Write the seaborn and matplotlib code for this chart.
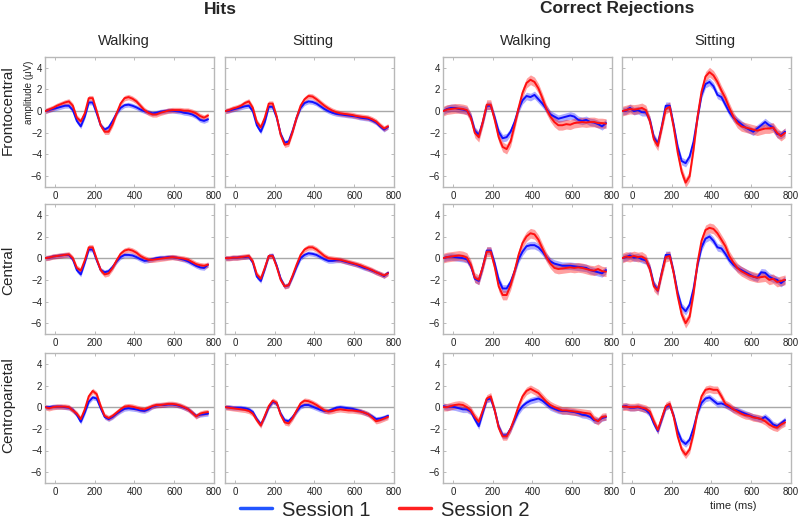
import numpy as np
import pandas as pd
import matplotlib
matplotlib.use("Agg")
import matplotlib.pyplot as plt
import seaborn as sns

# time axis (ms), one sample every 20 ms
time_ms = list(range(-50, 771, 20))

# ---- Hits / Walking ----
hits_walk_fc_s1 = [0.0, 0.1, 0.2, 0.3, 0.4, 0.5, 0.5, 0.1, -0.9, -1.4, -0.5, 0.8, 0.8, -0.2, -1.3, -1.7, -1.5, -0.9, -0.2, 0.3, 0.55,
                   0.6, 0.5, 0.35, 0.15, 0.0, -0.1, -0.2, -0.15, -0.05, 0.0, 0.05, 0.05, 0.0, -0.05, -0.15, -0.2, -0.3, -0.5, -0.8, -0.9, -0.75]
hits_walk_fc_s2 = [0.0, 0.15, 0.3, 0.5, 0.65, 0.8, 0.9, 0.5, -0.6, -0.95, -0.2, 1.2, 1.2, 0.0, -1.3, -1.9, -1.9, -1.2, -0.2, 0.7, 1.2,
                   1.3, 1.15, 0.9, 0.5, 0.1, -0.15, -0.3, -0.3, -0.15, -0.05, 0.05, 0.1, 0.1, 0.1, 0.05, 0.05, -0.05, -0.2, -0.45, -0.6, -0.4]
hits_walk_c_s1 = [0.0, 0.05, 0.15, 0.2, 0.25, 0.3, 0.3, -0.1, -1.1, -1.5, -0.4, 0.8, 0.8, -0.2, -1.1, -1.3, -1.2, -0.8, -0.3, 0.1, 0.3,
                  0.3, 0.25, 0.1, -0.1, -0.25, -0.2, -0.1, 0.0, 0.05, 0.05, 0.1, 0.1, 0.05, -0.05, -0.15, -0.3, -0.5, -0.7, -0.85, -0.9, -0.6]
hits_walk_c_s2 = [0.0, 0.05, 0.15, 0.2, 0.25, 0.3, 0.35, 0.0, -0.9, -1.15, -0.2, 1.0, 1.0, -0.1, -1.1, -1.5, -1.4, -0.9, -0.2, 0.4, 0.7,
                  0.8, 0.7, 0.5, 0.2, 0.0, -0.15, -0.15, -0.1, -0.05, 0.0, 0.05, 0.1, 0.05, 0.0, -0.05, -0.15, -0.35, -0.55, -0.65, -0.7, -0.6]
hits_walk_cp_s1 = [0.0, 0.0, 0.05, 0.05, 0.05, 0.0, -0.05, -0.25, -0.7, -1.35, -0.5, 0.5, 0.9, 0.8, -0.1, -0.9, -1.1, -0.9, -0.6, -0.35, -0.15,
                   -0.1, -0.15, -0.2, -0.3, -0.35, -0.2, 0.05, 0.15, 0.2, 0.2, 0.25, 0.25, 0.2, 0.1, -0.05, -0.2, -0.5, -0.8, -0.7, -0.65, -0.6]
hits_walk_cp_s2 = [0.0, -0.1, 0.0, 0.05, 0.05, 0.05, 0.0, -0.3, -0.6, -1.1, -0.2, 1.0, 1.5, 1.2, 0.1, -0.8, -1.0, -0.8, -0.5, -0.2, 0.05,
                   0.1, 0.05, -0.05, -0.15, -0.2, -0.05, 0.1, 0.2, 0.2, 0.25, 0.3, 0.3, 0.25, 0.15, 0.0, -0.2, -0.5, -0.85, -0.6, -0.5, -0.45]

# ---- Hits / Sitting ----
hits_sit_fc_s1 = [0.0, 0.05, 0.15, 0.25, 0.35, 0.45, 0.5, 0.0, -1.3, -1.9, -1.0, 0.4, 0.4, -0.6, -2.1, -2.9, -2.8, -1.8, -0.6, 0.3, 0.75,
                  0.9, 0.85, 0.7, 0.45, 0.2, 0.0, -0.15, -0.25, -0.3, -0.35, -0.4, -0.45, -0.5, -0.6, -0.65, -0.7, -0.85, -1.05, -1.4, -1.7, -1.45]
hits_sit_fc_s2 = [0.0, 0.1, 0.25, 0.35, 0.5, 0.75, 0.9, 0.3, -1.0, -1.5, -0.6, 0.7, 0.7, -0.5, -2.2, -3.1, -3.0, -1.9, -0.6, 0.5, 1.1,
                  1.4, 1.35, 1.1, 0.8, 0.5, 0.25, 0.05, -0.1, -0.2, -0.25, -0.3, -0.35, -0.45, -0.5, -0.55, -0.6, -0.75, -0.95, -1.3, -1.6, -1.4]
hits_sit_c_s1 = [0.0, 0.0, 0.05, 0.05, 0.1, 0.1, 0.15, -0.4, -1.7, -2.1, -1.0, 0.2, 0.25, -0.7, -1.9, -2.6, -2.5, -1.7, -0.8, 0.0, 0.3,
                 0.45, 0.4, 0.3, 0.1, -0.1, -0.25, -0.25, -0.2, -0.2, -0.3, -0.4, -0.5, -0.6, -0.75, -0.9, -1.0, -1.15, -1.3, -1.45, -1.65, -1.35]
hits_sit_c_s2 = [0.0, 0.0, 0.05, 0.05, 0.1, 0.15, 0.2, -0.3, -1.5, -1.9, -0.9, 0.2, 0.2, -0.8, -2.0, -2.6, -2.5, -1.6, -0.6, 0.3, 0.8,
                 1.0, 1.0, 0.8, 0.5, 0.2, 0.0, -0.05, -0.1, -0.15, -0.25, -0.35, -0.45, -0.55, -0.65, -0.8, -0.95, -1.1, -1.3, -1.45, -1.6, -1.4]
hits_sit_cp_s1 = [0.0, 0.0, -0.05, -0.05, -0.05, -0.1, -0.2, -0.45, -1.1, -1.6, -0.9, 0.0, 0.5, 0.35, -0.6, -1.2, -1.3, -0.9, -0.4, 0.05, 0.2,
                  0.2, 0.05, -0.1, -0.25, -0.35, -0.35, -0.2, -0.05, 0.0, -0.05, -0.1, -0.15, -0.25, -0.35, -0.5, -0.65, -0.85, -1.1, -1.05, -0.95, -0.8]
hits_sit_cp_s2 = [0.0, -0.05, -0.1, -0.15, -0.2, -0.25, -0.35, -0.6, -1.2, -1.7, -0.8, 0.1, 0.6, 0.4, -0.7, -1.4, -1.5, -1.0, -0.3, 0.35, 0.6,
                  0.55, 0.4, 0.2, -0.05, -0.3, -0.4, -0.35, -0.25, -0.2, -0.25, -0.3, -0.3, -0.35, -0.4, -0.5, -0.65, -0.95, -1.3, -1.2, -1.05, -0.9]

# ---- Correct Rejections / Walking ----
cr_walk_fc_s1 = [0.0, 0.2, 0.3, 0.3, 0.2, 0.15, 0.05, -0.5, -1.8, -2.2, -1.0, 0.5, 0.5, -0.6, -1.9, -2.5, -2.4, -1.9, -1.0, 0.2, 1.0,
                 1.4, 1.3, 1.5, 1.1, 0.7, 0.2, -0.3, -0.5, -0.7, -0.6, -0.5, -0.4, -0.5, -0.8, -0.9, -0.8, -1.0, -1.05, -1.2, -1.4, -1.1]
cr_walk_fc_s2 = [0.0, 0.15, 0.2, 0.25, 0.25, 0.2, 0.1, -0.6, -2.0, -2.4, -1.0, 0.6, 0.6, -0.8, -2.4, -3.3, -3.5, -2.8, -1.3, 0.3, 1.7,
                 2.6, 2.9, 2.7, 2.1, 1.2, 0.2, -0.5, -1.0, -1.3, -1.3, -1.2, -1.25, -1.1, -1.05, -1.0, -1.05, -1.0, -1.0, -1.1, -1.1, -1.15]
cr_walk_c_s1 = [0.0, 0.1, 0.15, 0.1, 0.05, 0.0, -0.1, -0.7, -1.9, -2.1, -0.8, 0.7, 0.7, -0.5, -2.0, -2.8, -2.8, -2.2, -1.2, -0.1, 0.6,
                1.1, 1.2, 1.2, 1.0, 0.6, 0.1, -0.3, -0.5, -0.6, -0.7, -0.7, -0.7, -0.75, -0.8, -0.85, -0.9, -1.1, -1.2, -1.3, -1.4, -1.1]
cr_walk_c_s2 = [0.0, 0.1, 0.15, 0.2, 0.25, 0.2, 0.05, -0.6, -1.8, -2.0, -0.8, 0.6, 0.6, -0.8, -2.6, -3.4, -3.4, -2.5, -1.2, 0.3, 1.4,
                2.0, 2.3, 2.2, 1.7, 0.9, 0.1, -0.5, -0.9, -1.0, -0.95, -0.9, -0.85, -0.9, -0.85, -0.9, -1.0, -1.1, -1.15, -1.0, -1.2, -1.25]
cr_walk_cp_s1 = [0.1, 0.0, 0.05, 0.0, -0.1, -0.2, -0.2, -0.4, -1.1, -1.75, -0.5, 0.7, 0.8, -0.3, -1.8, -2.6, -2.6, -2.0, -1.2, -0.4, 0.1,
                 0.4, 0.6, 0.7, 0.8, 0.6, 0.3, 0.0, -0.15, -0.3, -0.35, -0.35, -0.4, -0.45, -0.55, -0.7, -0.75, -0.9, -1.2, -1.25, -1.0, -0.9]
cr_walk_cp_s2 = [0.0, 0.0, 0.1, 0.2, 0.25, 0.2, 0.0, -0.3, -0.9, -1.35, -0.3, 0.8, 1.0, -0.3, -1.9, -2.7, -2.7, -2.0, -1.0, 0.1, 1.0,
                 1.5, 1.7, 1.5, 1.3, 0.9, 0.5, 0.2, 0.0, -0.15, -0.3, -0.3, -0.35, -0.4, -0.45, -0.5, -0.55, -0.6, -1.1, -1.3, -0.9, -0.85]

# ---- Correct Rejections / Sitting ----
cr_sit_fc_s1 = [0.0, 0.05, 0.3, 0.0, 0.1, -0.1, -0.1, -0.8, -2.4, -3.0, -1.4, 0.5, 0.5, -1.3, -3.3, -4.6, -4.8, -4.2, -2.8, -0.6, 1.5,
                2.5, 2.7, 2.3, 1.5, 1.3, 0.6, -0.1, -0.6, -0.9, -1.2, -1.5, -1.7, -1.9, -1.6, -1.3, -1.0, -1.3, -1.5, -2.1, -2.2, -1.9]
cr_sit_fc_s2 = [0.0, 0.1, 0.2, 0.15, 0.2, 0.3, 0.1, -0.9, -2.6, -3.2, -1.5, 0.2, 0.4, -1.5, -3.8, -5.6, -6.6, -6.0, -3.5, -0.5, 1.8,
                3.2, 3.6, 3.3, 2.7, 1.9, 1.2, 0.3, -0.5, -1.1, -1.4, -1.5, -1.6, -1.7, -1.8, -1.7, -1.6, -1.6, -1.5, -2.0, -2.3, -2.0]
cr_sit_c_s1 = [0.0, 0.1, 0.25, 0.05, 0.1, -0.1, -0.2, -0.9, -2.4, -3.0, -1.3, 0.3, 0.3, -1.3, -3.2, -4.5, -4.9, -4.3, -2.8, -0.6, 1.0,
               1.8, 2.0, 1.6, 1.0, 0.9, 0.4, -0.2, -0.6, -0.9, -1.1, -1.3, -1.5, -1.7, -1.8, -1.3, -1.35, -1.7, -1.9, -2.0, -2.3, -2.0]
cr_sit_c_s2 = [0.0, 0.15, 0.1, 0.2, 0.1, 0.15, -0.1, -1.0, -2.6, -3.0, -1.4, 0.1, 0.2, -1.4, -3.5, -5.2, -6.0, -5.4, -3.2, -0.4, 1.6,
               2.6, 2.8, 2.7, 2.3, 1.7, 1.1, 0.2, -0.4, -0.9, -1.2, -1.4, -1.6, -1.7, -1.8, -1.75, -1.7, -2.0, -1.9, -2.2, -2.1, -2.0]
cr_sit_cp_s1 = [0.05, 0.1, -0.05, -0.05, 0.0, -0.1, -0.25, -0.6, -1.5, -2.2, -1.1, 0.0, 0.2, -0.8, -2.2, -3.1, -3.4, -3.0, -1.9, -0.5, 0.4,
                0.8, 0.9, 0.6, 0.3, 0.35, 0.2, 0.0, -0.2, -0.3, -0.45, -0.6, -0.75, -0.9, -1.0, -1.1, -0.9, -1.2, -1.6, -1.75, -1.5, -1.2]
cr_sit_cp_s2 = [0.05, 0.05, 0.0, 0.0, 0.05, -0.05, -0.15, -0.4, -1.3, -2.1, -1.0, 0.1, 0.3, -0.9, -2.7, -3.9, -4.4, -3.9, -2.4, -0.4, 1.0,
                1.6, 1.7, 1.6, 1.6, 1.0, 0.3, 0.1, -0.2, -0.4, -0.6, -0.75, -0.8, -0.95, -1.0, -1.1, -1.3, -1.6, -1.8, -1.9, -1.6, -1.4]

# standard error (half width of the shaded band), one value per curve
se_hits = {"s1": 0.22, "s2": 0.25}
se_cr = {"fc": (0.35, 0.45), "c": (0.35, 0.45), "cp": (0.3, 0.35)}

conditions = ["Walking", "Sitting", "Walking", "Sitting"]
groups = ["Hits", "Correct Rejections"]
regions = ["Frontocentral", "Central", "Centroparietal"]

panels = [
    [(hits_walk_fc_s1, hits_walk_fc_s2), (hits_sit_fc_s1, hits_sit_fc_s2),
     (cr_walk_fc_s1, cr_walk_fc_s2), (cr_sit_fc_s1, cr_sit_fc_s2)],
    [(hits_walk_c_s1, hits_walk_c_s2), (hits_sit_c_s1, hits_sit_c_s2),
     (cr_walk_c_s1, cr_walk_c_s2), (cr_sit_c_s1, cr_sit_c_s2)],
    [(hits_walk_cp_s1, hits_walk_cp_s2), (hits_sit_cp_s1, hits_sit_cp_s2),
     (cr_walk_cp_s1, cr_walk_cp_s2), (cr_sit_cp_s1, cr_sit_cp_s2)],
]
region_keys = ["fc", "c", "cp"]

BLUE = "#1010ff"
RED = "#ff1010"

sns.set_theme(style="white")
plt.rcParams["font.family"] = ["Liberation Sans", "DejaVu Sans"]

W, H = 800, 519
fig = plt.figure(figsize=(8, 5.19), dpi=100)

col_left = [45, 225, 443, 622]
row_top = [57, 204, 353]
ax_w, ax_h = 169, 130

for r in range(3):
    for c in range(4):
        ax = fig.add_axes([col_left[c] / W, 1 - (row_top[r] + ax_h) / H, ax_w / W, ax_h / H])
        s1, s2 = panels[r][c]
        if c < 2:
            e1, e2 = se_hits["s1"], se_hits["s2"]
        else:
            e1, e2 = se_cr[region_keys[r]]
        ax.axhline(0, color="#a8a8a8", lw=1.0, zorder=1)
        y1 = np.array(s1)
        y2 = np.array(s2)
        ax.fill_between(time_ms, y1 - e1, y1 + e1, color=BLUE, alpha=0.35, lw=0, zorder=2)
        ax.fill_between(time_ms, y2 - e2, y2 + e2, color=RED, alpha=0.4, lw=0, zorder=2)
        df = pd.DataFrame({"time": time_ms * 2, "amp": s1 + s2,
                           "session": ["Session 1"] * len(s1) + ["Session 2"] * len(s2)})
        sns.lineplot(data=df, x="time", y="amp", hue="session",
                     palette={"Session 1": BLUE, "Session 2": RED},
                     lw=1.4, ax=ax, legend=False, zorder=3)
        ax.set_xlim(-50, 800)
        ax.set_ylim(-7, 5)
        ax.set_xticks([0, 200, 400, 600, 800])
        ax.set_yticks([-6, -4, -2, 0, 2, 4])
        ax.tick_params(direction="in", length=2.5, width=0.6, color="#b0b0b0",
                       labelsize=7, labelcolor="#222222", pad=2,
                       top=True, right=True, bottom=True, left=True)
        ax.tick_params(axis="x", pad=3)
        if c in (1, 3):
            ax.set_yticklabels([])
        ax.set_xlabel("")
        ax.set_ylabel("")
        for sp in ax.spines.values():
            sp.set_color("#b8b8b8")
            sp.set_linewidth(1.0)

# group titles
fig.text(220 / W, 1 - 9 / H, "Hits", ha="center", va="center", fontsize=12.5, fontweight="bold")
fig.text(617 / W, 1 - 9 / H, "Correct Rejections", ha="center", va="center", fontsize=12.5, fontweight="bold")

# condition titles
for cx, label in zip([124, 313, 526, 715], conditions):
    fig.text(cx / W, 1 - 41 / H, label, ha="center", va="center", fontsize=10.5)

# row labels
for ry, label in zip([110, 270, 405], regions):
    fig.text(8 / W, 1 - ry / H, label, ha="center", va="center", rotation=90, fontsize=11)

fig.text(29 / W, 1 - 92 / H, "amplitude (\u03bcV)", ha="center", va="center", rotation=90, fontsize=7)
fig.text(733 / W, 1 - 506 / H, "time (ms)", ha="center", va="center", fontsize=8)

# legend
handles = [plt.Line2D([], [], color="#2255ff", lw=2.5), plt.Line2D([], [], color="#ff2020", lw=2.5)]
fig.legend(handles, ["Session 1", "Session 2"], loc="center", bbox_to_anchor=(385 / W, 1 - 510 / H),
           ncol=2, frameon=False, fontsize=14.5, handlelength=1.6, handletextpad=0.5, columnspacing=1.4)

plt.savefig("out.png", dpi=100)
